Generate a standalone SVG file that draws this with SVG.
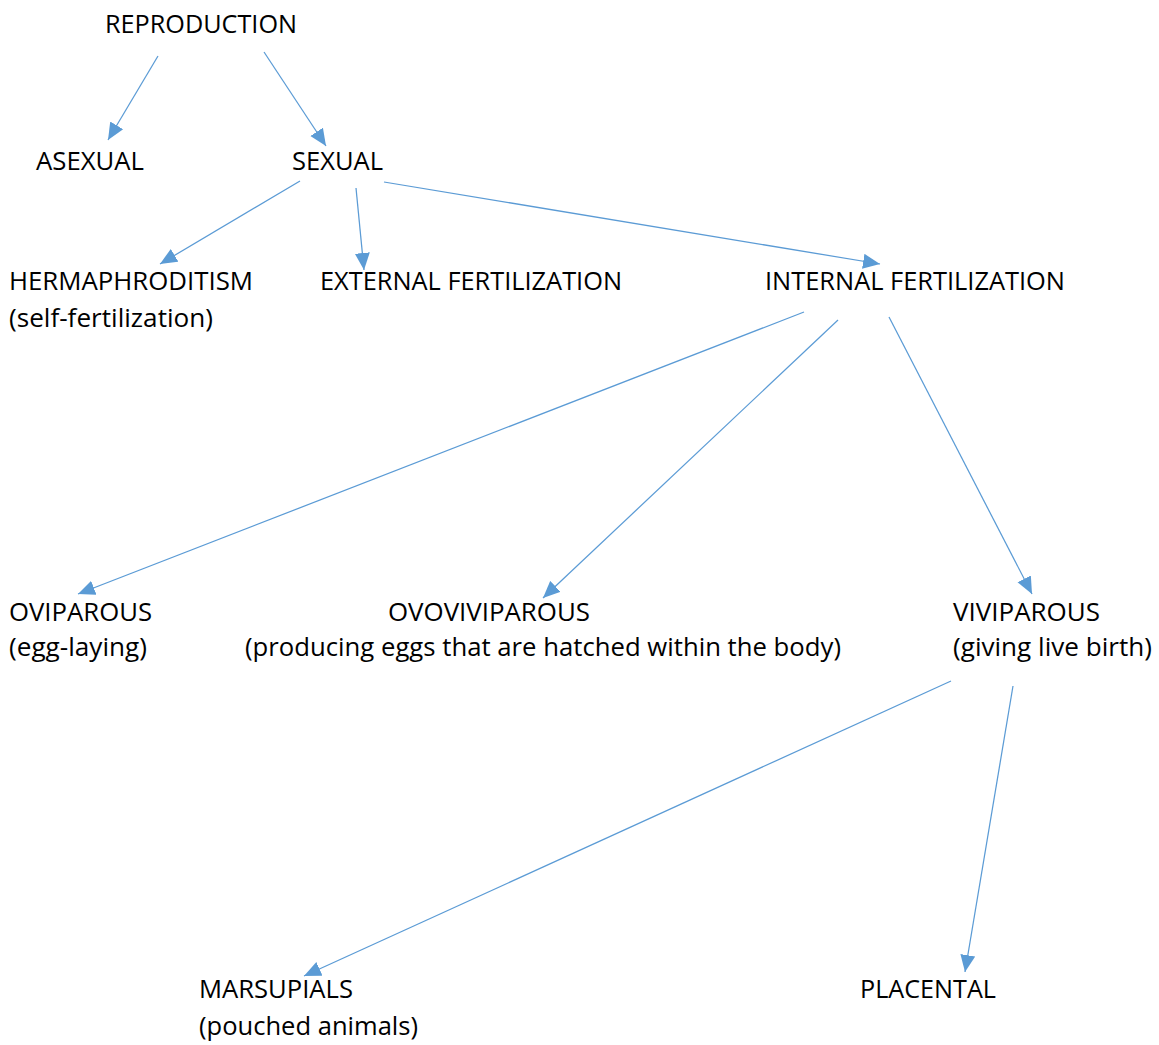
<svg xmlns="http://www.w3.org/2000/svg" width="1159" height="1045" viewBox="0 0 1159 1045">
<style>
text{font-family:"Open Sans","Liberation Sans",sans-serif;font-size:26px;fill:#000}
.c{stroke:#5B9BD5;stroke-width:1.25;fill:none;marker-end:url(#ah)}
</style>
<defs>
<marker id="ah" markerUnits="userSpaceOnUse" markerWidth="18" markerHeight="16" refX="17" refY="7.5" orient="auto" viewBox="0 0 18 15">
<path d="M0,0 L17,7.5 L0,15 z" fill="#5B9BD5"/>
</marker>
</defs>
<rect width="1159" height="1045" fill="#fff"/>
<g id="connectors">
<line class="c" x1="158" y1="56" x2="108" y2="140"/>
<line class="c" x1="264" y1="52" x2="326" y2="146"/>
<line class="c" x1="300" y1="181" x2="160" y2="264"/>
<line class="c" x1="356" y1="188" x2="364" y2="270"/>
<line class="c" x1="384" y1="182" x2="880" y2="264"/>
<line class="c" x1="804" y1="312" x2="78" y2="594"/>
<line class="c" x1="838" y1="320" x2="543" y2="598"/>
<line class="c" x1="889" y1="317" x2="1032" y2="594"/>
<line class="c" x1="951" y1="681" x2="304" y2="976"/>
<line class="c" x1="1013" y1="686" x2="965" y2="972"/>
</g>
<g id="reproduction"><text x="105" y="33" textLength="192" lengthAdjust="spacingAndGlyphs">REPRODUCTION</text></g>
<g id="asexual"><text x="36" y="170" textLength="108" lengthAdjust="spacingAndGlyphs">ASEXUAL</text></g>
<g id="sexual"><text x="292" y="170" textLength="91" lengthAdjust="spacingAndGlyphs">SEXUAL</text></g>
<g id="hermaphroditism">
<text x="9" y="290" textLength="244" lengthAdjust="spacingAndGlyphs">HERMAPHRODITISM</text>
<text x="9" y="327" textLength="204" lengthAdjust="spacingAndGlyphs">(self-fertilization)</text>
</g>
<g id="external"><text x="320" y="290" textLength="302" lengthAdjust="spacingAndGlyphs">EXTERNAL FERTILIZATION</text></g>
<g id="internal"><text x="765" y="290" textLength="300" lengthAdjust="spacingAndGlyphs">INTERNAL FERTILIZATION</text></g>
<g id="oviparous">
<text x="9" y="621" textLength="143" lengthAdjust="spacingAndGlyphs">OVIPAROUS</text>
<text x="9" y="656" textLength="138" lengthAdjust="spacingAndGlyphs">(egg-laying)</text>
</g>
<g id="ovoviviparous">
<text x="388" y="621" textLength="202" lengthAdjust="spacingAndGlyphs">OVOVIVIPAROUS</text>
<text x="245" y="656" textLength="596" lengthAdjust="spacingAndGlyphs">(producing eggs that are hatched within the body)</text>
</g>
<g id="viviparous">
<text x="953" y="621" textLength="147" lengthAdjust="spacingAndGlyphs">VIVIPAROUS</text>
<text x="953" y="656" textLength="199" lengthAdjust="spacingAndGlyphs">(giving live birth)</text>
</g>
<g id="marsupials">
<text x="199" y="998" textLength="154" lengthAdjust="spacingAndGlyphs">MARSUPIALS</text>
<text x="199" y="1035" textLength="219" lengthAdjust="spacingAndGlyphs">(pouched animals)</text>
</g>
<g id="placental"><text x="860" y="998" textLength="136" lengthAdjust="spacingAndGlyphs">PLACENTAL</text></g>
</svg>
